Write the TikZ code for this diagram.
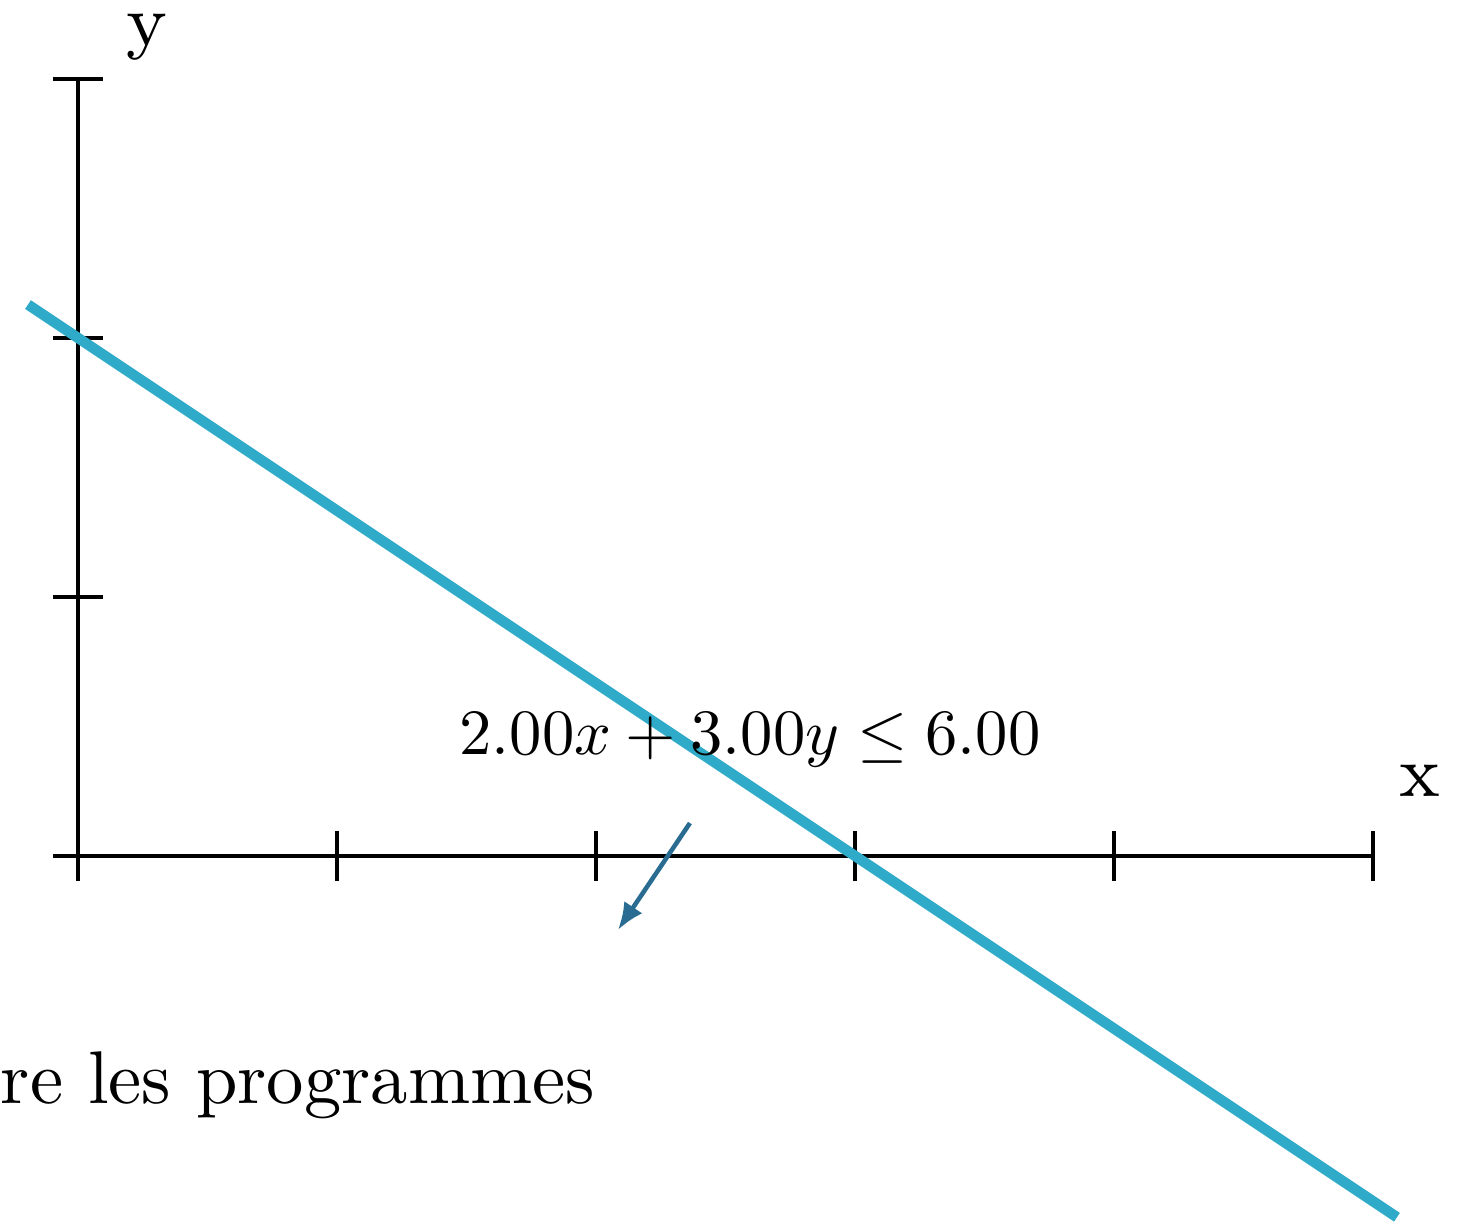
\documentclass[tikz,border=0pt]{standalone}
\usetikzlibrary{arrows.meta}
\definecolor{linecol}{RGB}{47,170,200}
\definecolor{arrcol}{RGB}{42,108,145}
\begin{document}
\begin{tikzpicture}[x=1cm,y=1cm,
  axis/.style={line width=0.45pt,black},
  tick/.style={line width=0.45pt,black},
  constraint/.style={line width=1.15pt,linecol},
  normalarrow/.style={line width=0.5pt,arrcol,-{Latex[length=3pt,width=2.4pt]}},
  axlabel/.style={font=\fontsize{8}{9}\selectfont,inner sep=0pt}]
\useasboundingbox (-0.301,-1.425) rectangle (5.402,3.305);
% axes
\coordinate (O) at (0,0);
\coordinate (xend) at (5,0);
\coordinate (yend) at (0,3);
\draw[axis] (O) -- (xend);
\draw[axis] (O) -- (yend);
\foreach \i in {0,...,5} \draw[tick] (\i,-0.097) -- (\i,0.097);
\foreach \j in {0,...,3} \draw[tick] (-0.097,\j) -- (0.097,\j);
\node[axlabel] (xl) at (5.18,0.29) {x};
\node[axlabel] (yl) at (0.266,3.16) {y};
% constraint line 2x+3y=6
\coordinate (la) at (-0.193,2.129);
\coordinate (lb) at (5.093,-1.395);
\draw[constraint] (la) -- (lb);
\node[inner sep=0pt] (lab) at (2.595,0.448) {\scalebox{0.71}{$2.00x + 3.00y \leq 6.00$}};
% normal arrow
\coordinate (na) at (2.363,0.127);
\coordinate (nb) at (2.085,-0.286);
\draw[normalarrow] (na) -- (nb);
% clipped text
\node[anchor=base west,inner sep=0pt] (txt) at (-0.305,-0.954) {\scalebox{0.82}{re les programmes}};
\end{tikzpicture}
\end{document}
